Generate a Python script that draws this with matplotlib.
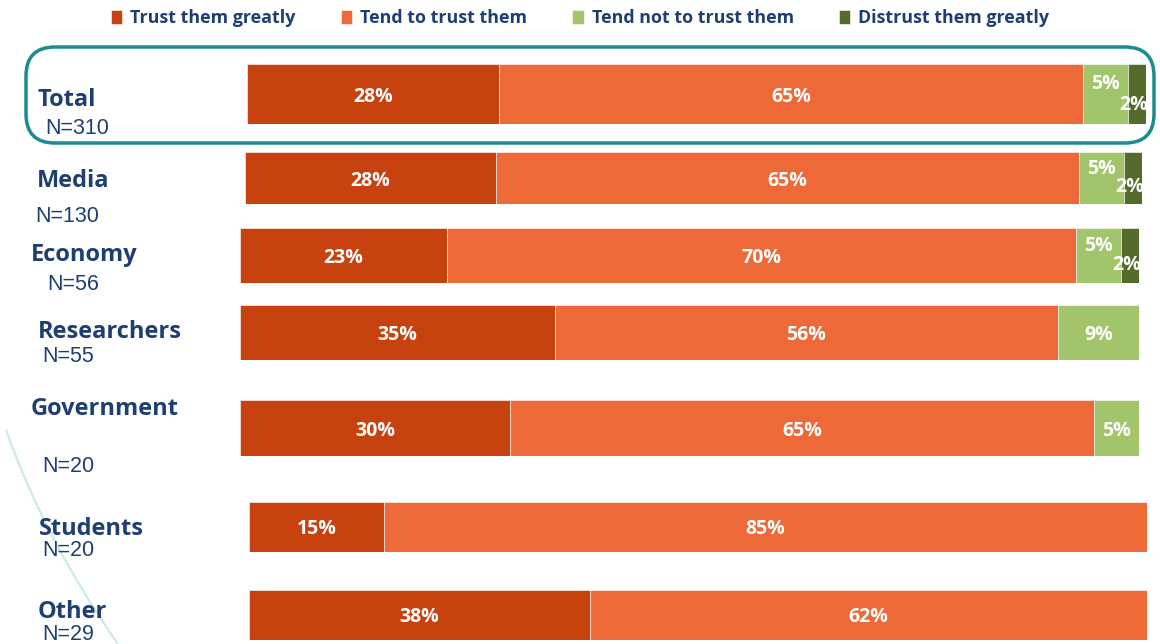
import numpy as np
import matplotlib.pyplot as plt
from matplotlib.patches import FancyBboxPatch, PathPatch
from matplotlib.path import Path

# data
groups = ['Total', 'Media', 'Economy', 'Researchers', 'Government', 'Students', 'Other']
sizes = ['N=310', 'N=130', 'N=56', 'N=55', 'N=20', 'N=20', 'N=29']
series = ['Trust them greatly', 'Tend to trust them', 'Tend not to trust them', 'Distrust them greatly']
trust_greatly = [28, 28, 23, 35, 30, 15, 38]
tend_trust = [65, 65, 70, 56, 65, 85, 62]
tend_not = [5, 5, 5, 9, 5, 0, 0]
distrust = [2, 2, 2, 0, 0, 0, 0]

colors = ['#C8420F', '#EE6938', '#A2C46B', '#546B2C']
navy = '#1F3F73'
W, H = 1160, 644

# slide layout in pixels: bar left, right, top, bottom
rows = [(247, 1146, 64, 124), (245, 1142, 152, 204), (240, 1139, 228, 283),
        (240, 1139, 305, 360), (240, 1139, 400, 456), (249, 1147, 502, 552),
        (249, 1147, 590, 640)]
# label positions: (x, y) for group name and for N
name_pos = [(37, 100), (37, 181), (31, 255), (38, 332), (31, 409), (39, 529), (38, 612)]
n_pos = [(45, 129), (35, 216), (47, 284), (42, 356), (42, 467), (42, 550), (42, 634)]

def fx(x):
    return x / W

def fy(y):
    return 1 - y / H

fig = plt.figure(figsize=(W / 100, H / 100), dpi=100)
fig.patch.set_facecolor('white')

# decorative arc on the left
arc = Path([(fx(6), fy(430)), (fx(45), fy(540)), (fx(118), fy(644))],
           [Path.MOVETO, Path.CURVE3, Path.CURVE3])
fig.patches.append(PathPatch(arc, transform=fig.transFigure, fill=False,
                             edgecolor='#CDEAEA', linewidth=1.6))

# rounded box around Total
box = FancyBboxPatch((fx(26), fy(143)), fx(1128), fy(47) - fy(143),
                     boxstyle='round,pad=0,rounding_size=0.025',
                     transform=fig.transFigure, fill=False,
                     edgecolor='#1A8C8F', linewidth=2.5, mutation_aspect=W / H)
fig.patches.append(box)

handles = None
for i, (l, r, t, b) in enumerate(rows):
    ax = fig.add_axes([fx(l), fy(b), fx(r) - fx(l), fy(t) - fy(b)])
    vals = [trust_greatly[i], tend_trust[i], tend_not[i], distrust[i]]
    left = 0
    conts = []
    for j, v in enumerate(vals):
        c = ax.barh(0, v, left=left, height=1, color=colors[j], label=series[j],
                    edgecolor='white', linewidth=0.4)
        conts.append(c)
        if v > 0:
            cx = left + v / 2
            cy = -0.05
            if distrust[i] > 0 and j == 2:
                cy = 0.17
            if j == 3:
                cy = -0.18
                cx = left + v / 2 - 0.4
            ax.text(cx, cy, f'{v}%', ha='center', va='center', color='white',
                    fontsize=14, fontweight='bold', family='Open Sans')
        left += v
    if handles is None:
        handles = conts
    ax.set_xlim(0, 100)
    ax.set_ylim(-0.5, 0.5)
    ax.axis('off')

    fig.text(fx(name_pos[i][0]), fy(name_pos[i][1]), groups[i], ha='left', va='center',
             color=navy, fontsize=17, fontweight='bold', family='Open Sans')
    fig.text(fx(n_pos[i][0]), fy(n_pos[i][1]), sizes[i], ha='left', va='center',
             color=navy, fontsize=15.5, family='Liberation Sans')

leg = fig.legend(handles, series, loc='center', bbox_to_anchor=(0.5, fy(18)), ncol=4,
                 frameon=False, handlelength=0.65, handleheight=0.85, handletextpad=0.45,
                 columnspacing=2.5, prop={'family': 'Open Sans', 'weight': 'bold', 'size': 12.9})
for txt in leg.get_texts():
    txt.set_color(navy)

fig.savefig('out.png', dpi=100, facecolor='white')
